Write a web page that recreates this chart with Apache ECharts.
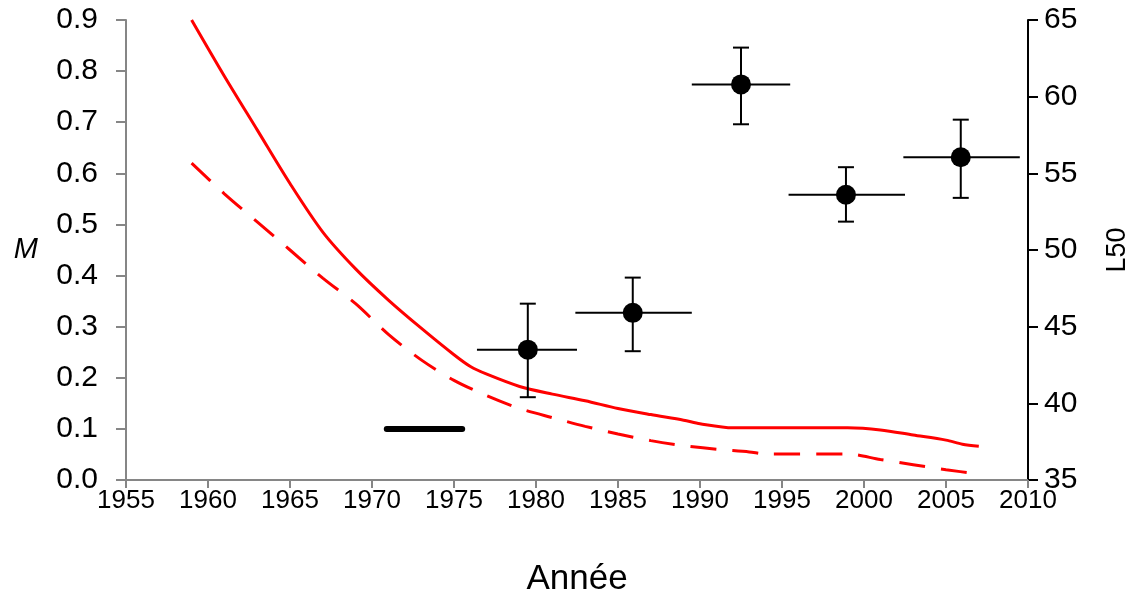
<!DOCTYPE html>
<html>
<head>
<meta charset="utf-8">
<script src="https://cdn.jsdelivr.net/npm/echarts@6/dist/echarts.min.js"></script>
<style>
html, body { margin: 0; padding: 0; background: #fff; }
#chart { width: 1133px; height: 598px; }
</style>
</head>
<body>
<div id="chart"></div>
<script>
// M curves (left axis)
const solidYears = [1959, 1961, 1963, 1965, 1967, 1969, 1971, 1973, 1975, 1976, 1977, 1979, 1981, 1983, 1985, 1987, 1989, 1990, 1992, 1999, 2001, 2003, 2005, 2006, 2007];
const solidM = [0.90, 0.79, 0.685, 0.58, 0.485, 0.413, 0.352, 0.297, 0.245, 0.222, 0.207, 0.183, 0.168, 0.155, 0.14, 0.128, 0.117, 0.11, 0.102, 0.102, 0.098, 0.088, 0.078, 0.07, 0.066];
const dashYears = [1959, 1961, 1963, 1965, 1967, 1969, 1971, 1973, 1975, 1977, 1979, 1981, 1983, 1985, 1987, 1989, 1991, 1993, 1994, 1999, 2001, 2003, 2005, 2007];
const dashM = [0.62, 0.56, 0.505, 0.45, 0.395, 0.345, 0.285, 0.235, 0.195, 0.165, 0.14, 0.122, 0.105, 0.09, 0.077, 0.067, 0.06, 0.055, 0.051, 0.051, 0.04, 0.03, 0.02, 0.012];

// black reference bar
const barYears = [1970.9, 1975.5];
const barM = [0.1, 0.1];

// L50 points with error bars (right axis)
const l50Year = [1979.5, 1985.9, 1992.5, 1998.9, 2005.9];
const l50 = [43.5, 45.9, 60.8, 53.6, 56.05];
const yearFrom = [1976.4, 1982.4, 1989.5, 1995.4, 2002.4];
const yearTo = [1982.5, 1989.5, 1995.5, 2002.5, 2009.5];
const l50Low = [40.4, 43.4, 58.2, 51.85, 53.4];
const l50High = [46.5, 48.2, 63.2, 55.4, 58.5];

const font = 'Liberation Sans, Arial, sans-serif';

const zip = (a, b) => a.map((v, i) => [v, b[i]]);

const chart = echarts.init(document.getElementById('chart'));

const renderErr = (params, api) => {
	const c = api.coord([api.value(0), api.value(1)]);
	const l = api.coord([api.value(2), api.value(1)]);
	const r = api.coord([api.value(3), api.value(1)]);
	const lo = api.coord([api.value(0), api.value(4)]);
	const hi = api.coord([api.value(0), api.value(5)]);
	const cap = 8;
	const st = {stroke: '#000', lineWidth: 2};
	return {
		type: 'group',
		children: [
			{type: 'line', shape: {x1: l[0], y1: c[1], x2: r[0], y2: c[1]}, style: st},
			{type: 'line', shape: {x1: c[0], y1: hi[1], x2: c[0], y2: lo[1]}, style: st},
			{type: 'line', shape: {x1: c[0] - cap, y1: hi[1], x2: c[0] + cap, y2: hi[1]}, style: st},
			{type: 'line', shape: {x1: c[0] - cap, y1: lo[1], x2: c[0] + cap, y2: lo[1]}, style: st},
			{type: 'circle', shape: {cx: c[0], cy: c[1], r: 10}, style: {fill: '#000'}}
		]
	};
};

const option = {
	animation: false,
	grid: {left: 126, right: 105, top: 20, bottom: 118, outerBoundsMode: 'none', containLabel: false},
	xAxis: {
		type: 'value',
		min: 1955,
		max: 2010,
		interval: 5,
		name: 'Année',
		nameLocation: 'middle',
		nameGap: 82,
		nameTextStyle: {fontFamily: font, fontSize: 35, color: '#000'},
		axisLine: {lineStyle: {color: '#868686', width: 2}},
		axisTick: {show: true, length: 8, lineStyle: {color: '#868686', width: 2}},
		axisLabel: {fontFamily: font, fontSize: 26, color: '#000', margin: 8, formatter: v => String(v)},
		splitLine: {show: false}
	},
	yAxis: [
		{
			type: 'value',
			min: 0,
			max: 0.9,
			interval: 0.1,
			name: 'M',
			nameLocation: 'middle',
			nameRotate: 0,
			nameGap: 88,
			nameTextStyle: {fontFamily: font, fontSize: 29, fontStyle: 'italic', color: '#000'},
			axisLine: {show: true, lineStyle: {color: '#868686', width: 2}},
			axisTick: {show: true, length: 10, lineStyle: {color: '#868686', width: 2}},
			axisLabel: {fontFamily: font, fontSize: 30, color: '#000', margin: 28, formatter: v => v.toFixed(1)},
			splitLine: {show: false}
		},
		{
			type: 'value',
			position: 'right',
			min: 35,
			max: 65,
			interval: 5,
			name: 'L50',
			nameLocation: 'middle',
			nameRotate: 90,
			nameGap: 76,
			nameTextStyle: {fontFamily: font, fontSize: 27, color: '#000'},
			axisLine: {show: true, lineStyle: {color: '#000', width: 2}},
			axisTick: {show: true, length: 10, lineStyle: {color: '#000', width: 2}},
			axisLabel: {fontFamily: font, fontSize: 30, color: '#000', margin: 16},
			splitLine: {show: false}
		}
	],
	series: [
		{
			type: 'line',
			data: zip(solidYears, solidM),
			symbol: 'none',
			smooth: 0.3,
			lineStyle: {color: '#ff0000', width: 3}
		},
		{
			type: 'line',
			data: zip(dashYears, dashM),
			symbol: 'none',
			smooth: 0.3,
			lineStyle: {color: '#ff0000', width: 3, type: [26, 16]}
		},
		{
			type: 'line',
			data: zip(barYears, barM),
			symbol: 'none',
			lineStyle: {color: '#000', width: 6, cap: 'round'}
		},
		{
			type: 'custom',
			yAxisIndex: 1,
			renderItem: renderErr,
			data: l50Year.map((y, i) => [y, l50[i], yearFrom[i], yearTo[i], l50Low[i], l50High[i]]),
			z: 5
		}
	]
};

chart.setOption(option);
</script>
</body>
</html>
